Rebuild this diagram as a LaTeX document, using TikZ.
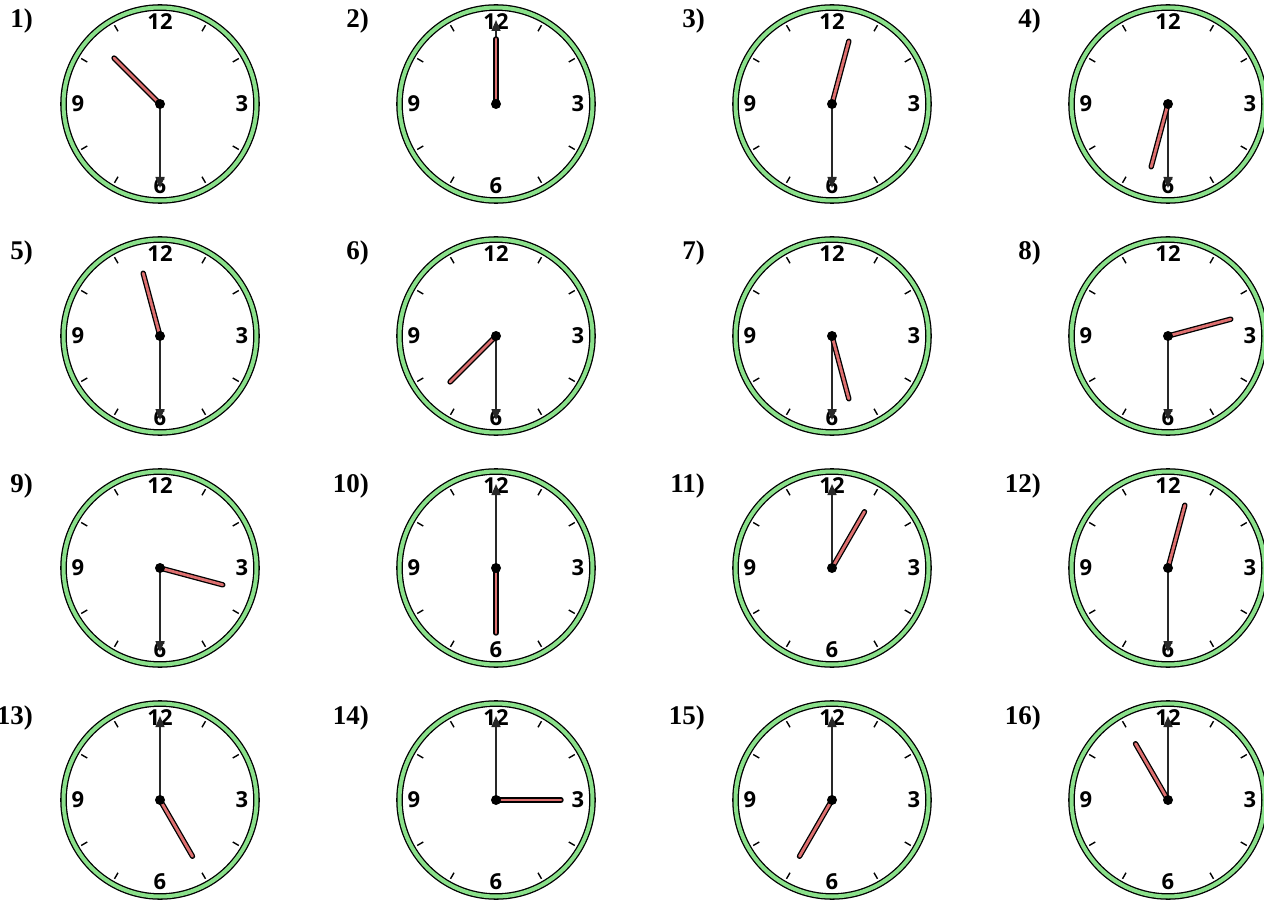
\documentclass[tikz,border=0pt]{standalone}
\usepackage{fontspec}
\setmainfont{Liberation Serif}
\newfontfamily\dialfont{Open Sans}
\usepackage{tikz}
\usetikzlibrary{arrows.meta}

\definecolor{ringgreen}{RGB}{138,224,138}
\definecolor{handred}{RGB}{222,112,112}
\definecolor{handgray}{RGB}{40,40,40}

\begin{document}
\begin{tikzpicture}[x=1pt, y=-1pt,
    ringline/.style={draw=black, line width=6.6pt},
    ringfill/.style={draw=ringgreen, line width=4pt},
    tick/.style={line width=1.4pt},
    dial/.style={font=\dialfont\bfseries\fontsize{22}{22}\selectfont, inner sep=0pt},
    lbl/.style={font=\bfseries\fontsize{27}{27}\selectfont, inner sep=0pt, anchor=base east},
    hourout/.style={line width=5.4pt, line cap=round, black},
    hourin/.style={line width=2.8pt, line cap=round, handred},
    minhand/.style={line width=1.5pt, handgray, -{Triangle[length=11pt,width=9pt]}}]
    		\useasboundingbox (0,0) rectangle (1264,901);
    		
    		\foreach \n/\cx/\cy/\hr/\mn in {
    			1/160/104/10.5/6,
    			2/496/104/12/12,
    			3/832/104/12.5/6,
    			4/1168/104/6.5/6,
    			5/160/336/11.5/6,
    			6/496/336/7.5/6,
    			7/832/336/5.5/6,
    			8/1168/336/2.5/6,
    			9/160/568/3.5/6,
    			10/496/568/6/12,
    			11/832/568/1/12,
    			12/1168/568/12.5/6,
    			13/160/800/5/12,
    			14/496/800/3/12,
    			15/832/800/7/12,
    			16/1168/800/11/12
    		}{
    			\node[lbl] (l\n) at ({\cx-127},{\cy-76}) {\n)};
    			\begin{scope}[shift={(\cx,\cy)}]
    				\coordinate (c\n) at (0,0);
    				\draw[ringline] (c\n) circle (96.5pt);
    				\draw[ringfill] (c\n) circle (96.5pt);
    				\foreach \k in {1,2,4,5,7,8,10,11}{
    					\draw[tick] (30*\k-90:84) -- (30*\k-90:91);
    				}
    				\foreach \v/\a in {12/-90, 3/0, 6/90, 9/180}{
    					\node[dial] (d\n-\v) at (\a:82) {\v};
    				}
    				\coordinate (h\n) at (30*\hr-90:65);
    				\coordinate (m\n) at (30*\mn-90:84);
    				\draw[minhand] (c\n) -- (m\n);
    				\draw[hourout] (c\n) -- (h\n);
    				\draw[hourin] (c\n) -- (h\n);
    				\fill (c\n) circle (5pt);
    			\end{scope}
    		}
    	\end{tikzpicture}
\end{document}
